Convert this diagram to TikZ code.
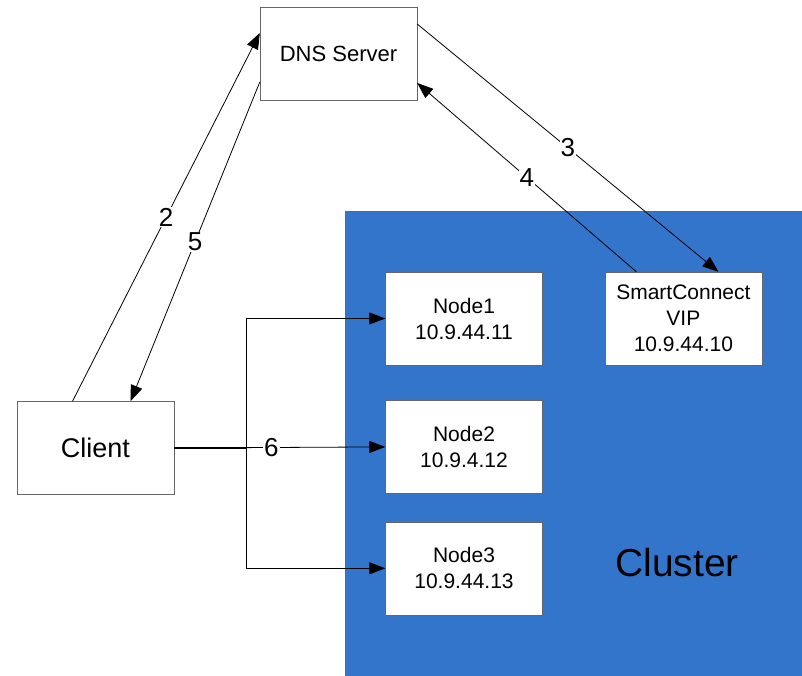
\documentclass[tikz,border=0pt]{standalone}
\usepackage{fontspec}
\setmainfont{Liberation Sans}
\usetikzlibrary{positioning,arrows.meta,calc}
\definecolor{clusterblue}{RGB}{52,117,204}
\begin{document}
\begin{tikzpicture}[x=1pt,y=-1pt,>={Triangle[length=16pt,width=12pt]}]

    % Define node styles
    \tikzstyle{cluster_block} = [draw=black!60, fill=clusterblue, minimum width=457pt, minimum height=465pt, anchor=north west, inner sep=0pt]
    \tikzstyle{host_block} = [draw=black!60, fill=white, minimum width=157pt, minimum height=93pt, text centered, align=center, font=\fontsize{21}{26}\selectfont]
    \tikzstyle{step_label} = [fill=white, inner sep=1pt, font=\fontsize{26}{30}\selectfont]
    \tikzstyle{link} = [->, black, line width=0.8pt]

    \useasboundingbox (0,0) rectangle (802,676);

    % Draw nodes
    \node [cluster_block] (cluster) at (345,211) {};
    \node [font=\fontsize{39}{44}\selectfont] (cluster_name) at (677,563) {Cluster};

    \node [host_block, font=\fontsize{22}{26}\selectfont] (dns) at (338.5,53.5) {DNS Server};
    \node [host_block, font=\fontsize{27}{30}\selectfont] (client) at (95.5,448) {Client};
    \node [host_block] (node1) at (464,318.5) {Node1\\10.9.44.11};
    \node [host_block, below=35pt of node1] (node2) {Node2\\10.9.4.12};
    \node [host_block, below=28pt of node2] (node3) {Node3\\10.9.44.13};
    \node [host_block, right=62pt of node1] (vip) {SmartConnect\\VIP\\10.9.44.10};

    % Draw arrows
    \draw [link] (client.north) ++(-23pt,0) -- node[step_label] {2} (dns.west |- 0,33);
    \draw [link] (dns.west |- 0,82) -- node[step_label] {5} ($(client.north)+(35pt,0)$);
    \draw [link] (dns.east |- 0,24) -- node[step_label] {3} ($(vip.north)+(35pt,0)$);
    \draw [link] (vip.north) ++(-47pt,0) -- node[step_label] {4} (dns.east |- 0,83);

    \coordinate (split) at (client.east -| 246,0);
    \draw [black, line width=1.6pt] (client.east) -- (split);
    \draw [link] (client.east) -- node[step_label, pos=0.46] {6} (node2.west);
    \draw [link] (split) |- (node1.west);
    \draw [link] (split) |- (node3.west);

\end{tikzpicture}
\end{document}
